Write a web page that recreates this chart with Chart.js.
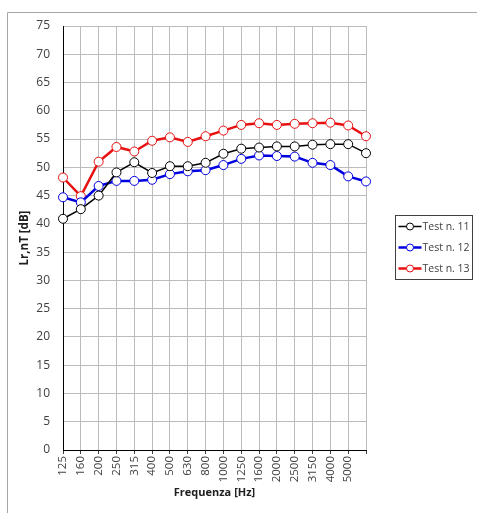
<!DOCTYPE html>
<html>
<head>
<meta charset="utf-8">
<script src="https://cdn.jsdelivr.net/npm/chart.js@4"></script>
<style>
  body { margin: 0; background: #fff; }
  #wrap { position: relative; width: 477px; height: 513px; }
</style>
</head>
<body>
<div id="wrap"><canvas id="myChart"></canvas></div>
<script>
// frequency bands (last band has no label in the original)
const labels = ['125','160','200','250','315','400','500','630','800','1000','1250','1600','2000','2500','3150','4000','5000',''];

const test11 = [40.9, 42.6, 45.0, 49.1, 50.9, 49.0, 50.2, 50.2, 50.8, 52.4, 53.3, 53.5, 53.7, 53.7, 54.0, 54.1, 54.1, 52.5];
const test12 = [44.7, 43.8, 46.7, 47.6, 47.6, 47.8, 48.8, 49.3, 49.5, 50.4, 51.5, 52.1, 52.0, 51.9, 50.8, 50.4, 48.4, 47.5];
const test13 = [48.2, 44.9, 51.0, 53.6, 52.8, 54.7, 55.3, 54.5, 55.5, 56.5, 57.5, 57.8, 57.5, 57.7, 57.8, 57.9, 57.4, 55.5];

const names = ['Test n. 11', 'Test n. 12', 'Test n. 13'];
const colors = ['#000000', '#0000e0', '#e81010'];

const txtFont = "'Open Sans', 'DejaVu Sans', sans-serif";

function mkSet(label, data, color, w) {
  return {
    label: label,
    data: data,
    borderColor: color,
    backgroundColor: '#ffffff',
    borderWidth: w,
    pointRadius: 4.5,
    pointBorderWidth: 1,
    pointBorderColor: color,
    pointBackgroundColor: '#ffffff',
    tension: 0
  };
}

// frame around the whole chart + legend box on the right
const decor = {
  id: 'decor',
  beforeDraw(chart) {
    const c = chart.ctx;
    c.save();
    c.fillStyle = '#fff';
    c.fillRect(0, 0, chart.width, chart.height);
    c.strokeStyle = '#a6a6a6';
    c.lineWidth = 1;
    c.beginPath();
    c.moveTo(7.5, chart.height);
    c.lineTo(7.5, 12.5);
    c.lineTo(chart.width, 12.5);
    c.stroke();
    c.restore();
  },
  afterDraw(chart) {
    const c = chart.ctx;
    c.save();
    const bx = 395.5, by = 215.5, bw = 77, bh = 64;
    c.strokeStyle = '#404040';
    c.lineWidth = 1;
    c.strokeRect(bx, by, bw, bh);
    c.font = '10.5px ' + txtFont;
    c.textBaseline = 'middle';
    chart.data.datasets.forEach((ds, i) => {
      const y = by + 11 + i * 21;
      c.strokeStyle = ds.borderColor;
      c.lineWidth = ds.borderWidth;
      c.beginPath();
      c.moveTo(bx + 3, y);
      c.lineTo(bx + 26, y);
      c.stroke();
      c.beginPath();
      c.arc(bx + 14.5, y, 3.5, 0, Math.PI * 2);
      c.fillStyle = '#fff';
      c.fill();
      c.lineWidth = 1;
      c.stroke();
      c.fillStyle = '#404040';
      c.fillText(ds.label, bx + 27, y + 0.5);
    });
    c.restore();
  }
};

const config = {
  type: 'line',
  data: {
    labels: labels,
    datasets: [
      mkSet(names[0], test11, colors[0], 1.5),
      mkSet(names[1], test12, colors[1], 2.5),
      mkSet(names[2], test13, colors[2], 2.5)
    ]
  },
  options: {
    responsive: true,
    maintainAspectRatio: false,
    animation: false,
    layout: { padding: { left: 14, top: 26, right: 111, bottom: 10 } },
    plugins: { legend: { display: false }, tooltip: { enabled: false } },
    scales: {
      x: {
        offset: false,
        grid: { color: '#bcbcbc', tickLength: 4, tickColor: '#404040' },
        border: { color: '#000000', width: 1 },
        ticks: {
          minRotation: 90, maxRotation: 90, autoSkip: false,
          color: '#404040', font: { size: 11.5, family: txtFont }, padding: 2
        },
        title: {
          display: true, text: 'Frequenza [Hz]', color: '#202020',
          font: { size: 11, weight: 'bold', family: txtFont }, padding: { top: 1 }
        },
        afterFit(scale) { scale.height = 53; }
      },
      y: {
        min: 0, max: 75,
        grid: { color: '#bcbcbc', drawTicks: false },
        border: { color: '#000000', width: 1 },
        ticks: { stepSize: 5, color: '#404040', font: { size: 12, family: txtFont }, padding: 13 },
        title: {
          display: true, text: 'Lr,nT [dB]', color: '#202020',
          font: { size: 11.5, weight: 'bold', family: txtFont }, padding: { bottom: 2 }
        },
        afterFit(scale) { scale.width = 49; }
      }
    }
  },
  plugins: [decor]
};

var myChart = new Chart(document.getElementById('myChart'), config);
</script>
</body>
</html>
